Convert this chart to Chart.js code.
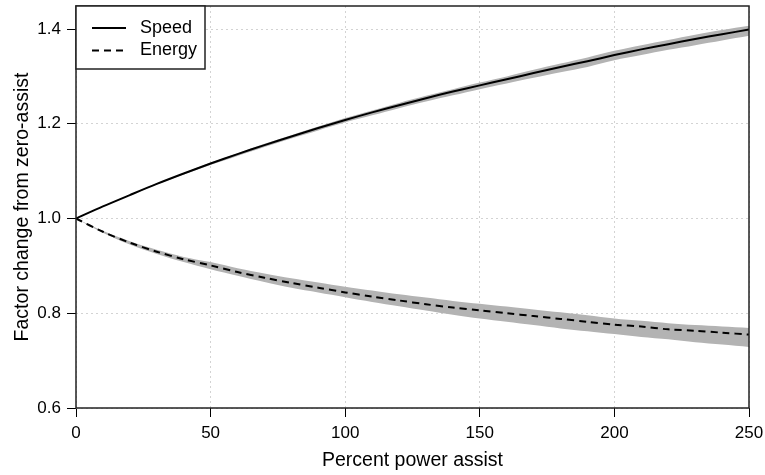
<!DOCTYPE html>
<html><head><meta charset="utf-8">
<script src="https://cdn.jsdelivr.net/npm/chart.js@4/dist/chart.umd.min.js"></script>
<style>html,body{margin:0;padding:0;background:#fff}</style>
</head><body>
<canvas id="c" width="765" height="475"></canvas>
<script>
const assist     = [0,10,20,30,40,50,60,70,80,90,100,110,120,130,140,150,160,170,180,190,200,210,220,230,240,250];
const speed      = [1.000,1.0255,1.0495,1.073,1.095,1.116,1.136,1.155,1.173,1.191,1.208,1.224,1.239,1.254,1.268,1.281,1.294,1.307,1.320,1.332,1.345,1.357,1.368,1.379,1.389,1.399];
const speedHigh  = [1.000,1.026,1.050,1.074,1.096,1.118,1.138,1.158,1.176,1.194,1.212,1.228,1.244,1.259,1.273,1.287,1.300,1.314,1.327,1.340,1.354,1.366,1.377,1.388,1.398,1.407];
const speedLow   = [1.000,1.025,1.049,1.072,1.093,1.113,1.132,1.151,1.169,1.186,1.203,1.218,1.233,1.247,1.260,1.273,1.285,1.297,1.309,1.320,1.334,1.345,1.356,1.366,1.376,1.386];
const energy     = [1.000,0.972,0.949,0.930,0.914,0.901,0.887,0.875,0.864,0.854,0.844,0.835,0.827,0.819,0.812,0.806,0.800,0.794,0.788,0.782,0.776,0.772,0.766,0.763,0.759,0.755];
const energyHigh = [1.000,0.974,0.952,0.934,0.919,0.908,0.895,0.884,0.874,0.865,0.856,0.848,0.840,0.833,0.826,0.820,0.814,0.808,0.802,0.796,0.789,0.784,0.779,0.775,0.772,0.769];
const energyLow  = [1.000,0.970,0.945,0.925,0.908,0.893,0.879,0.866,0.854,0.844,0.834,0.824,0.815,0.806,0.797,0.789,0.782,0.775,0.768,0.762,0.756,0.750,0.745,0.739,0.734,0.729];
const xTicks = [0,50,100,150,200,250];
const yTicks = [0.6,0.8,1.0,1.2,1.4];
const seriesNames = ['Speed','Energy'];
const xTitle = 'Percent power assist';
const yTitle = 'Factor change from zero-assist';

const FONT = 'Liberation Sans';
const BAND = '#b3b3b3';
const pts = arr => arr.map((v,i)=>({x:assist[i], y:v}));

const boxPlugin = {
  id:'box',
  afterDraw(chart){
    const {ctx, chartArea:a} = chart;
    ctx.save();
    ctx.strokeStyle = '#222'; ctx.lineWidth = 1.5;
    ctx.strokeRect(a.left, a.top, a.right-a.left, a.bottom-a.top);
    // legend
    const lx = a.left, ly = a.top, lw = 129, lh = 63;
    ctx.fillStyle = '#fff';
    ctx.fillRect(lx, ly, lw, lh);
    ctx.strokeRect(lx, ly, lw, lh);
    const rows = [{y: ly+22, dash: []},{y: ly+44.5, dash:[7,5]}];
    ctx.font = '18px "'+FONT+'"';
    ctx.textBaseline = 'middle'; ctx.textAlign = 'left';
    rows.forEach((r,i)=>{
      ctx.beginPath();
      ctx.setLineDash(r.dash);
      ctx.lineWidth = 2; ctx.strokeStyle = '#000';
      ctx.moveTo(lx+16, r.y); ctx.lineTo(lx+50, r.y); ctx.stroke();
      ctx.setLineDash([]);
      ctx.fillStyle = '#000';
      ctx.fillText(seriesNames[i], lx+64, r.y);
    });
    ctx.restore();
  }
};

new Chart(document.getElementById('c'), {
  type:'line',
  data:{datasets:[
    {label:seriesNames[0], data:pts(speed), borderColor:'#000', borderWidth:2, pointRadius:0, fill:false, tension:0.3},
    {label:seriesNames[1], data:pts(energy), borderColor:'#000', borderWidth:2, borderDash:[7,5], pointRadius:0, fill:false, tension:0.3},
    {label:'speedHigh', data:pts(speedHigh), borderWidth:0, borderColor:'rgba(0,0,0,0)', pointRadius:0, fill:false, tension:0.3},
    {label:'speedLow', data:pts(speedLow), borderWidth:0, borderColor:'rgba(0,0,0,0)', pointRadius:0, backgroundColor:BAND, fill:{target:2}, tension:0.3},
    {label:'energyHigh', data:pts(energyHigh), borderWidth:0, borderColor:'rgba(0,0,0,0)', pointRadius:0, fill:false, tension:0.3},
    {label:'energyLow', data:pts(energyLow), borderWidth:0, borderColor:'rgba(0,0,0,0)', pointRadius:0, backgroundColor:BAND, fill:{target:4}, tension:0.3}
  ]},
  options:{
    responsive:false, animation:false, devicePixelRatio:1,
    layout:{padding:{left:0, right:16, top:6, bottom:0}},
    plugins:{legend:{display:false}, tooltip:{enabled:false}},
    scales:{
      x:{type:'linear', min:0, max:250,
        afterBuildTicks:s=>{s.ticks = xTicks.map(v=>({value:v}));},
        afterFit:s=>{s.height = 67; s.paddingLeft = 0; s.paddingRight = 0;},
        grid:{color:'#d3d3d3', lineWidth:1, drawTicks:true, tickLength:9, tickColor:'#000', tickWidth:1, tickBorderDash:[]},
        border:{display:false, dash:[2,3]},
        ticks:{font:{family:FONT, size:17}, color:'#000', padding:6, maxRotation:0, autoSkip:false, callback:v=>String(v)},
        title:{display:true, text:xTitle, font:{family:FONT, size:19.5}, color:'#000', padding:{top:0, bottom:3}}
      },
      y:{type:'linear', min:0.6, max:1.4486,
        afterBuildTicks:s=>{s.ticks = yTicks.map(v=>({value:v}));},
        afterFit:s=>{s.width = 76; s.paddingTop = 0; s.paddingBottom = 0;},
        grid:{color:'#d3d3d3', lineWidth:1, drawTicks:true, tickLength:9, tickColor:'#000', tickWidth:1, tickBorderDash:[]},
        border:{display:false, dash:[2,3]},
        ticks:{font:{family:FONT, size:17}, color:'#000', padding:6, autoSkip:false, callback:v=>Number(v).toFixed(1)},
        title:{display:true, text:yTitle, font:{family:FONT, size:19.5}, color:'#000', padding:{top:11, bottom:0}}
      }
    }
  },
  plugins:[boxPlugin]
});
</script>
</body></html>
